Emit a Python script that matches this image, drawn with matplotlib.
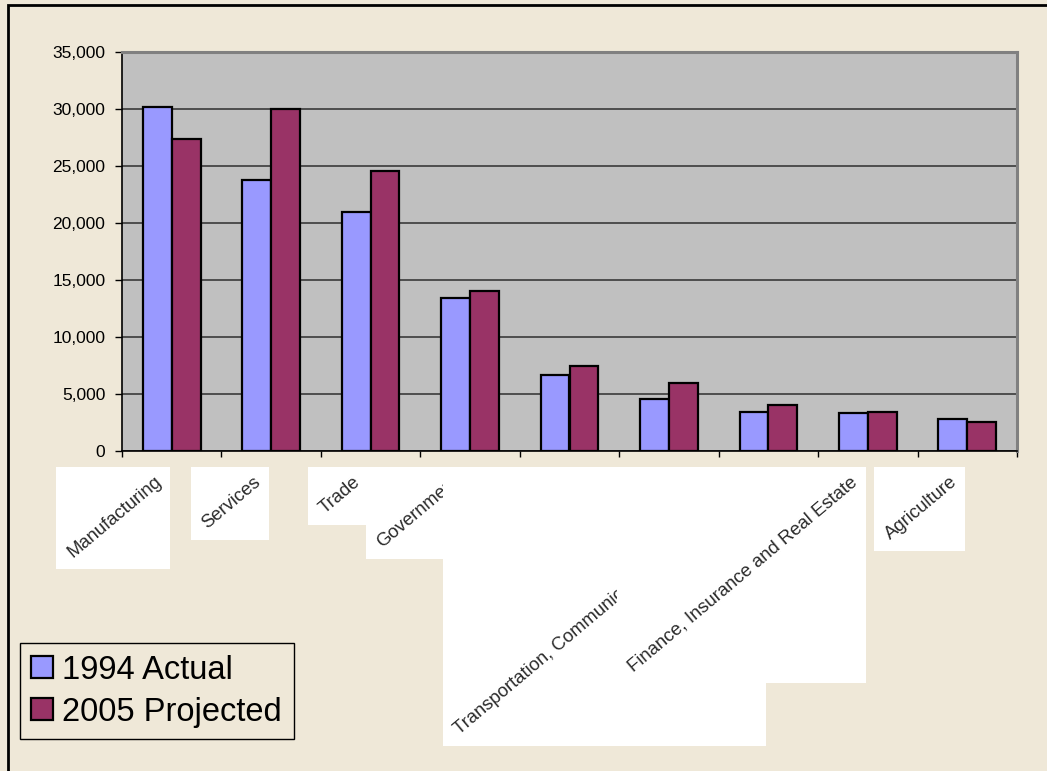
import numpy as np
import matplotlib
matplotlib.use('Agg')
import matplotlib.pyplot as plt
from matplotlib.patches import Rectangle
from matplotlib.transforms import IdentityTransform
from matplotlib.ticker import FuncFormatter, MultipleLocator

# employment by sector, thousands of jobs
categories = ['Manufacturing', 'Services', 'Trade', 'Government', 'Construction', 'Self-Employed',
              'Transportation, Communications, Public Utilities',
              'Finance, Insurance and Real Estate', 'Agriculture']
actual_1994 = [30200, 23800, 21000, 13400, 6650, 4550, 3450, 3300, 2800]
projected_2005 = [27400, 30000, 24600, 14000, 7500, 5950, 4050, 3450, 2550]
series_names = ['1994 Actual', '2005 Projected']

BG = '#EFE8D8'
PLOT_BG = '#C0C0C0'
BLUE = '#9999FF'
MAROON = '#993366'

plt.rcParams['font.family'] = ['Liberation Sans', 'DejaVu Sans']

fig = plt.figure(figsize=(10.47, 7.71), dpi=100, facecolor=BG)
ax = fig.add_axes([122 / 1047, 1 - 451 / 771, (1017 - 122) / 1047, (451 - 52) / 771])
ax.set_facecolor(PLOT_BG)

x = np.arange(len(categories))
w = 0.29
b1 = ax.bar(x - w / 2, actual_1994, w, color=BLUE, edgecolor='black', linewidth=1.6,
            label=series_names[0], zorder=3)
b2 = ax.bar(x + w / 2, projected_2005, w, color=MAROON, edgecolor='black', linewidth=1.6,
            label=series_names[1], zorder=3)

ax.set_xlim(-0.5, len(categories) - 0.5)
ax.set_ylim(0, 35000)
ax.yaxis.set_major_locator(MultipleLocator(5000))
ax.yaxis.set_major_formatter(FuncFormatter(lambda v, p: f'{int(v):,}'))
ax.grid(axis='y', color='#3a3a3a', linewidth=1.2, zorder=1)
ax.set_axisbelow(True)

for s in ['top', 'right']:
    ax.spines[s].set_color('#808080')
    ax.spines[s].set_linewidth(2.2)
for s in ['left', 'bottom']:
    ax.spines[s].set_color('black')
    ax.spines[s].set_linewidth(1.2)

ax.tick_params(axis='y', direction='out', length=5, width=1, labelsize=12.5, pad=7)
ax.set_xticks(np.arange(len(categories) + 1) - 0.5)
ax.set_xticklabels([])
ax.tick_params(axis='x', direction='out', length=4.5, width=1)

# rotated category labels, each one on its own upright white box
labels = []
for i, name in enumerate(categories):
    t = ax.annotate(name, xy=(i, 0), xycoords=('data', 'axes fraction'),
                    xytext=(-13, -16), textcoords='offset points',
                    rotation=40, rotation_mode='anchor', ha='right', va='top',
                    fontsize=13.3, color='#2a2a2a',
                    annotation_clip=False, zorder=10 + 2 * i + 1)
    labels.append(t)

fig.canvas.draw()
renderer = fig.canvas.get_renderer()
pad = 8
for i, t in enumerate(labels):
    bb = t.get_window_extent(renderer)
    box = Rectangle((bb.x0 - pad, bb.y0 - pad), bb.width + 2 * pad - 3, bb.height + 2 * pad - 2,
                    transform=IdentityTransform(), facecolor='white', edgecolor='none',
                    clip_on=False, zorder=10 + 2 * i)
    ax.add_artist(box)

leg = fig.legend(handles=[b1, b2], loc='lower left',
                 bbox_to_anchor=(20 / 1047, 1 - 739 / 771), fontsize=23.5,
                 frameon=True, fancybox=False, facecolor=BG, edgecolor='black',
                 framealpha=1, handlelength=0.65, handleheight=0.65, handletextpad=0.3,
                 borderpad=0.35, labelspacing=0.33, borderaxespad=0)
leg.get_frame().set_linewidth(1.0)

# outer chart border (top and left edges visible)
fig.add_artist(Rectangle((8 / 1047, -0.1), 1.2, 1 - 5 / 771 + 0.1, transform=fig.transFigure,
                         fill=False, edgecolor='black', linewidth=2, zorder=10))

fig.savefig('out.png', dpi=100, facecolor=BG)
